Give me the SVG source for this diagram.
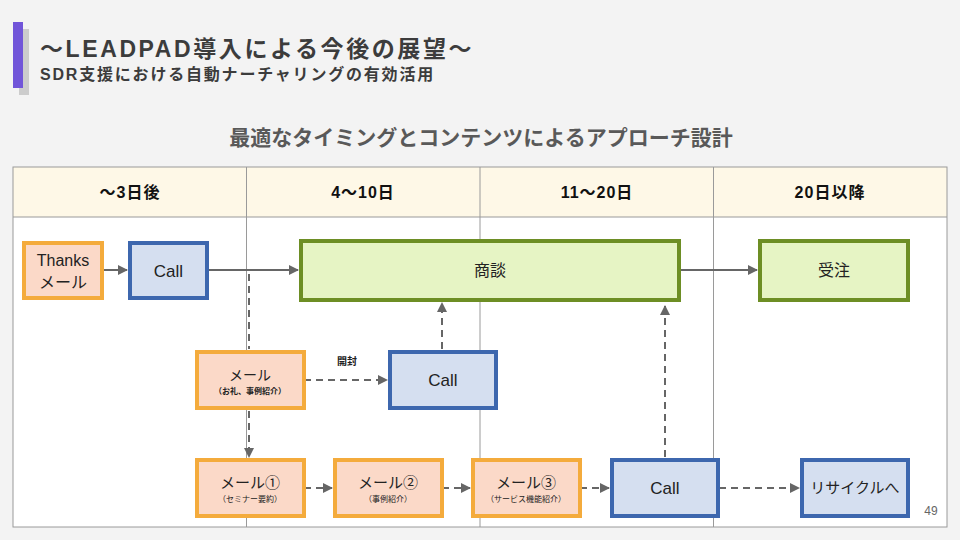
<svg xmlns="http://www.w3.org/2000/svg" width="960" height="540" viewBox="0 0 960 540">
<defs>
<style>
text{font-family:"Liberation Sans","Noto Sans CJK JP",sans-serif;fill:#222}
.hd{font-size:16px;font-weight:bold;text-anchor:middle;fill:#111;letter-spacing:1px}
.lbl{font-size:16px;text-anchor:middle}
.call{font-size:17px;text-anchor:middle}
.sm{font-size:8px;text-anchor:middle}
.o rect{fill:#fbd9c8;stroke:#f4ab3c;stroke-width:4}
.b rect{fill:#d5dff0;stroke:#3d67ae;stroke-width:4}
.g rect{fill:#e6f4c4;stroke:#6d8e24;stroke-width:4}
.grid{stroke:#9a9a9a;stroke-width:1;fill:none}
.c{stroke:#666;stroke-width:2;fill:none}
.d{stroke:#666;stroke-width:2;fill:none;stroke-dasharray:7 5}
</style>
<marker id="ah" viewBox="0 0 10 10" refX="9" refY="5" markerWidth="5.5" markerHeight="5" markerUnits="strokeWidth" orient="auto">
<path d="M0,0 L10,5 L0,10 Z" fill="#666"/>
</marker>
</defs>
<rect width="960" height="540" fill="#f3f3f3"/>
<rect x="19" y="29" width="10" height="66" fill="#cccccc"/>
<rect x="13" y="22" width="10" height="66" fill="#7155d9"/>
<text x="40" y="57" style="font-size:23px;font-weight:bold;fill:#3c3c3c;letter-spacing:2.6px">〜LEADPAD導入による今後の展望〜</text>
<text x="40" y="80" style="font-size:16px;font-weight:bold;fill:#3c3c3c;letter-spacing:1.8px">SDR支援における自動ナーチャリングの有効活用</text>
<text x="481" y="145" style="font-size:21px;font-weight:bold;fill:#595959;text-anchor:middle">最適なタイミングとコンテンツによるアプローチ設計</text>
<g id="table">
<rect x="13" y="167" width="934" height="360" fill="#ffffff"/>
<rect x="13" y="167" width="934" height="50" fill="#fef8e7"/>
<rect x="13" y="167" width="934" height="360" class="grid"/>
<line x1="13" y1="217" x2="947" y2="217" class="grid"/>
<line x1="246.5" y1="167" x2="246.5" y2="527" class="grid"/>
<line x1="480" y1="167" x2="480" y2="527" class="grid"/>
<line x1="713.5" y1="167" x2="713.5" y2="527" class="grid"/>
<text x="130" y="198" class="hd">〜3日後</text>
<text x="363" y="198" class="hd">4〜10日</text>
<text x="597" y="198" class="hd">11〜20日</text>
<text x="830" y="198" class="hd">20日以降</text>
</g>
<g id="connectors">
<line x1="102" y1="270" x2="127" y2="270" class="c" marker-end="url(#ah)"/>
<line x1="207" y1="270" x2="298" y2="270" class="c" marker-end="url(#ah)"/>
<line x1="680" y1="270" x2="757" y2="270" class="c" marker-end="url(#ah)"/>
<line x1="249" y1="274" x2="249" y2="349" class="d"/>
<line x1="249" y1="411" x2="249" y2="457" class="d" marker-end="url(#ah)"/>
<line x1="304" y1="380" x2="387" y2="380" class="d" marker-end="url(#ah)"/>
<line x1="442" y1="349" x2="442" y2="303" class="d" marker-end="url(#ah)"/>
<line x1="665" y1="457" x2="665" y2="306" class="d" marker-end="url(#ah)"/>
<line x1="304" y1="488" x2="332" y2="488" class="d" marker-end="url(#ah)"/>
<line x1="442" y1="488" x2="470" y2="488" class="d" marker-end="url(#ah)"/>
<line x1="580" y1="488" x2="609" y2="488" class="d" marker-end="url(#ah)"/>
<line x1="719" y1="488" x2="799" y2="488" class="d" marker-end="url(#ah)"/>
<text x="347" y="365" style="font-size:10px;font-weight:bold;text-anchor:middle">開封</text>
</g>
<g id="thanks" class="o"><rect x="24" y="243" width="78" height="55"/><text x="63" y="266" class="lbl">Thanks</text><text x="63" y="288" class="lbl">メール</text></g>
<g id="call1" class="b"><rect x="130" y="243" width="77" height="55"/><text x="168.5" y="277" class="call">Call</text></g>
<g id="shodan" class="g"><rect x="301" y="241" width="378" height="59"/><text x="490" y="276" class="lbl">商談</text></g>
<g id="juchu" class="g"><rect x="760" y="241" width="148" height="59"/><text x="834" y="276" class="lbl">受注</text></g>
<g id="mail0" class="o"><rect x="197" y="352" width="107" height="56"/><text x="250" y="380" style="font-size:14px;text-anchor:middle">メール</text><text x="250" y="394" class="sm" style="font-weight:bold">（お礼、事例紹介）</text></g>
<g id="call2" class="b"><rect x="390" y="352" width="106" height="56"/><text x="443" y="386" class="call">Call</text></g>
<g id="mail1" class="o"><rect x="197" y="460" width="107" height="56"/><text x="250" y="488" style="font-size:15px;text-anchor:middle">メール①</text><text x="250" y="502" class="sm">（セミナー要約）</text></g>
<g id="mail2" class="o"><rect x="335" y="460" width="107" height="56"/><text x="388" y="488" style="font-size:15px;text-anchor:middle">メール②</text><text x="388" y="502" class="sm">（事例紹介）</text></g>
<g id="mail3" class="o"><rect x="473" y="460" width="107" height="56"/><text x="526" y="488" style="font-size:15px;text-anchor:middle">メール③</text><text x="526" y="502" class="sm">（サービス機能紹介）</text></g>
<g id="call3" class="b"><rect x="612" y="460" width="106" height="56"/><text x="665" y="494" class="call">Call</text></g>
<g id="recycle" class="b"><rect x="802" y="460" width="106" height="56"/><text x="855" y="493" style="font-size:15px;text-anchor:middle">リサイクルへ</text></g>
<text x="931" y="515" style="font-size:12px;fill:#666;text-anchor:middle">49</text>
</svg>
